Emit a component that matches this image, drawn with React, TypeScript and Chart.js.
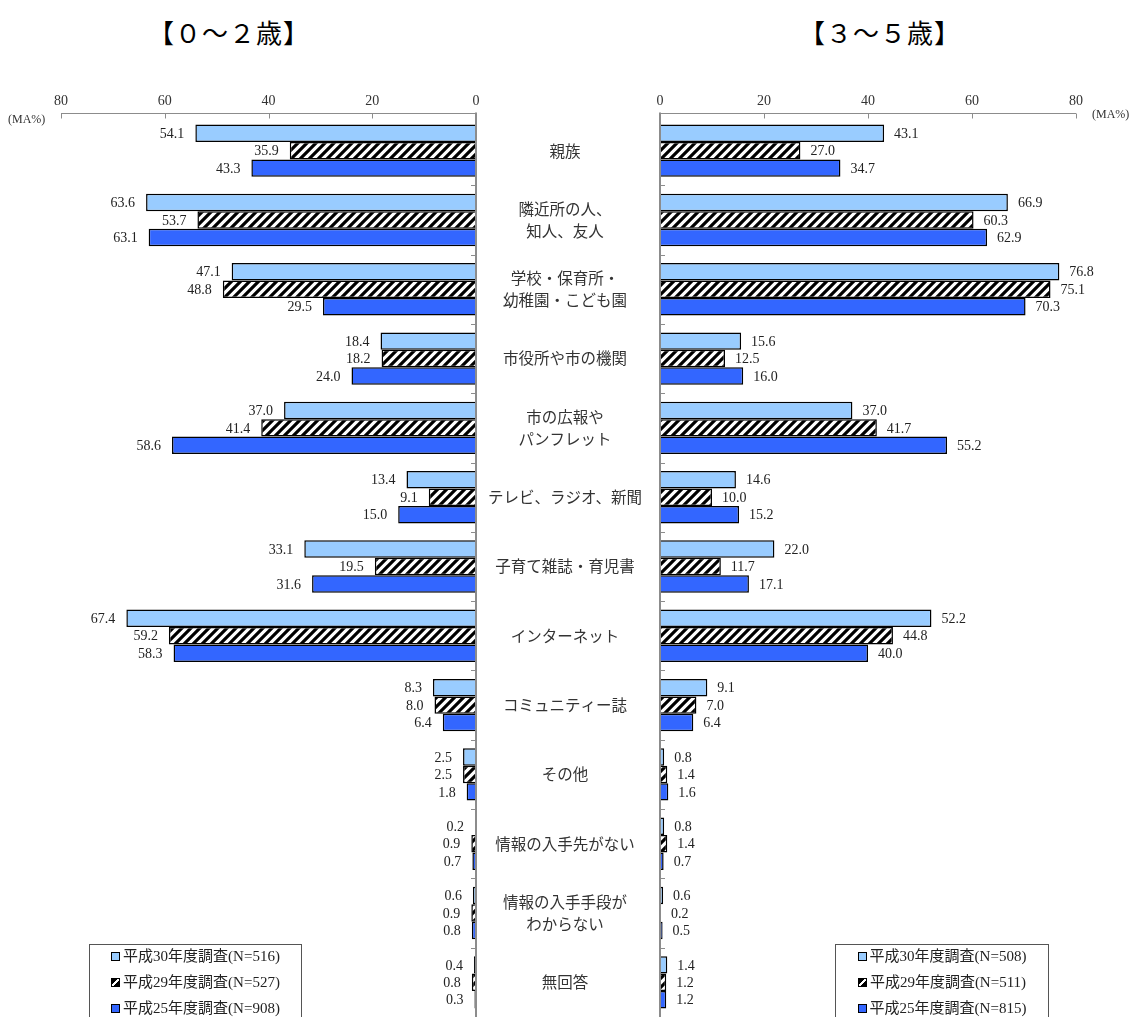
import React, { useEffect, useRef } from 'react';
import { Chart, registerables } from 'chart.js';

Chart.register(...registerables);

// ---------- data ----------
const categories: string[][] = [
  ['親族'],
  ['隣近所の人、', '知人、友人'],
  ['学校・保育所・', '幼稚園・こども園'],
  ['市役所や市の機関'],
  ['市の広報や', 'パンフレット'],
  ['テレビ、ラジオ、新聞'],
  ['子育て雑誌・育児書'],
  ['インターネット'],
  ['コミュニティー誌'],
  ['その他'],
  ['情報の入手先がない'],
  ['情報の入手手段が', 'わからない'],
  ['無回答'],
];

const xTickValues = [0, 20, 40, 60, 80];

// 0〜2歳
const young30 = [54.1, 63.6, 47.1, 18.4, 37.0, 13.4, 33.1, 67.4, 8.3, 2.5, 0.2, 0.6, 0.4];
const young29 = [35.9, 53.7, 48.8, 18.2, 41.4, 9.1, 19.5, 59.2, 8.0, 2.5, 0.9, 0.9, 0.8];
const young25 = [43.3, 63.1, 29.5, 24.0, 58.6, 15.0, 31.6, 58.3, 6.4, 1.8, 0.7, 0.8, 0.3];

// 3〜5歳
const old30 = [43.1, 66.9, 76.8, 15.6, 37.0, 14.6, 22.0, 52.2, 9.1, 0.8, 0.8, 0.6, 1.4];
const old29 = [27.0, 60.3, 75.1, 12.5, 41.7, 10.0, 11.7, 44.8, 7.0, 1.4, 1.4, 0.2, 1.2];
const old25 = [34.7, 62.9, 70.3, 16.0, 55.2, 15.2, 17.1, 40.0, 6.4, 1.6, 0.7, 0.5, 1.2];

const legendYoung = ['平成30年度調査(N=516)', '平成29年度調査(N=527)', '平成25年度調査(N=908)'];
const legendOld = ['平成30年度調査(N=508)', '平成29年度調査(N=511)', '平成25年度調査(N=815)'];

const titleYoung = '【０～２歳】';
const titleOld = '【３～５歳】';
const unitLabel = '(MA%)';

// ---------- styles ----------
const LIGHT = '#99CCFF';
const DARK = '#3366FF';
const SERIF = '"Liberation Serif", "DejaVu Serif", serif';
const JP = '"Noto Sans CJK JP", sans-serif';

function makeHatch(): any {
  const c = document.createElement('canvas');
  const s = 9;
  c.width = s;
  c.height = s;
  const g = c.getContext('2d')!;
  g.fillStyle = '#fff';
  g.fillRect(0, 0, s, s);
  g.strokeStyle = '#000';
  g.lineWidth = 3.2;
  g.beginPath();
  g.moveTo(-1, s + 1);
  g.lineTo(s + 1, -1);
  g.moveTo(-s / 2 - 1, s / 2 + 1);
  g.lineTo(s / 2 + 1, -s / 2 - 1);
  g.moveTo(s / 2 - 1, s * 1.5 + 1);
  g.lineTo(s * 1.5 + 1, s / 2 - 1);
  g.stroke();
  return g.createPattern(c, 'repeat');
}

const decorPlugin = {
  id: 'decor',
  afterDatasetsDraw(chart: any, _args: any, opts: any) {
    const { ctx, chartArea } = chart;
    const xs = chart.scales.x;
    const ys = chart.scales.y;
    const y0 = Math.round(chartArea.top - 3) + 0.5;
    const zx = xs.getPixelForValue(0);
    const ex = xs.getPixelForValue(xs.max);
    ctx.save();
    ctx.strokeStyle = '#8c8c8c';
    ctx.lineWidth = 1;
    ctx.beginPath();
    ctx.moveTo(Math.min(zx, ex), y0);
    ctx.lineTo(Math.max(zx, ex), y0);
    xs.ticks.forEach((t: any) => {
      const px = Math.round(xs.getPixelForValue(t.value)) + 0.5;
      ctx.moveTo(px, y0);
      ctx.lineTo(px, y0 + 5);
    });
    const dir = opts.side === 'left' ? -1 : 1;
    const n = categories.length;
    for (let i = 0; i < n - 1; i++) {
      const b = Math.round((ys.getPixelForValue(i) + ys.getPixelForValue(i + 1)) / 2) + 0.5;
      ctx.moveTo(zx, b);
      ctx.lineTo(zx + dir * 5, b);
    }
    ctx.stroke();
    ctx.lineWidth = 2;
    ctx.beginPath();
    ctx.moveTo(zx, y0 - 1);
    ctx.lineTo(zx, chartArea.bottom);
    ctx.stroke();
    ctx.restore();
  },
};

const valuePlugin = {
  id: 'values',
  afterDatasetsDraw(chart: any, _args: any, opts: any) {
    const ctx = chart.ctx;
    ctx.save();
    ctx.font = `14px ${SERIF}`;
    ctx.fillStyle = '#222';
    ctx.textBaseline = 'middle';
    chart.data.datasets.forEach((ds: any, i: number) => {
      const meta = chart.getDatasetMeta(i);
      meta.data.forEach((el: any, j: number) => {
        const txt = Number(ds.data[j]).toFixed(1);
        if (opts.side === 'left') {
          ctx.textAlign = 'right';
          ctx.fillText(txt, el.x - 11, el.y + 1);
        } else {
          ctx.textAlign = 'left';
          ctx.fillText(txt, el.x + 10, el.y + 1);
        }
      });
    });
    ctx.restore();
  },
};

function SideChart(props: {
  side: 'left' | 'right';
  s30: number[];
  s29: number[];
  s25: number[];
  names: string[];
  width: number;
  left: number;
}) {
  const ref = useRef<HTMLCanvasElement>(null);
  useEffect(() => {
    if (!ref.current) return;
    const hatch = makeHatch();
    const isLeft = props.side === 'left';
    const common = {
      borderColor: '#000',
      borderWidth: 1.5,
      barPercentage: 1.0,
      categoryPercentage: 0.756,
    };
    const chart = new Chart(ref.current, {
      type: 'bar',
      data: {
        labels: categories as any,
        datasets: [
          { label: props.names[0], data: props.s30, backgroundColor: LIGHT, ...common },
          { label: props.names[1], data: props.s29, backgroundColor: hatch, ...common },
          { label: props.names[2], data: props.s25, backgroundColor: DARK, ...common },
        ],
      },
      options: {
        indexAxis: 'y',
        animation: false,
        responsive: false,
        maintainAspectRatio: false,
        layout: {
          padding: isLeft
            ? { left: 61, right: 0, top: 0, bottom: 0 }
            : { left: 20, right: 53, top: 0, bottom: 0 },
        },
        plugins: {
          legend: { display: false },
          tooltip: { enabled: false },
          values: { side: props.side },
          decor: { side: props.side },
        } as any,
        scales: {
          x: {
            type: 'linear',
            position: 'top',
            reverse: isLeft,
            min: 0,
            max: 80,
            grid: { display: false, drawTicks: false },
            border: { display: false },
            ticks: {
              font: { family: SERIF, size: 14 },
              color: '#333',
              padding: 6,
              maxRotation: 0,
            },
            afterBuildTicks: (s: any) => {
              s.ticks = xTickValues.map((v) => ({ value: v }));
            },
            afterFit: (s: any) => {
              s.height = 116;
              s.paddingLeft = 0;
              s.paddingRight = 0;
              s.paddingTop = 0;
              s.paddingBottom = 0;
            },
          },
          y: {
            type: 'category',
            position: 'right',
            display: isLeft,
            grid: { display: false, drawTicks: false },
            border: { display: false },
            ticks: {
              autoSkip: false,
              crossAlign: 'center',
              padding: 12,
              color: '#333',
              font: { family: JP, size: 15.5, lineHeight: 1.4 },
            },
            afterFit: (s: any) => {
              if (isLeft) s.width = 184;
              s.paddingTop = 0;
              s.paddingBottom = 0;
              s.paddingLeft = 0;
              s.paddingRight = 0;
            },
          },
        } as any,
      } as any,
      plugins: [decorPlugin, valuePlugin],
    });
    return () => chart.destroy();
  }, []);
  return (
    <canvas
      ref={ref}
      width={props.width}
      height={1017}
      style={{ position: 'absolute', left: props.left, top: 0, width: props.width, height: 1017 }}
    />
  );
}

function Legend(props: { names: string[]; left: number; width: number }) {
  const markers = [
    { background: LIGHT },
    { background: 'linear-gradient(135deg, #000 0%, #000 40%, #fff 40%, #fff 60%, #000 60%)' },
    { background: DARK },
  ];
  return (
    <div
      style={{
        position: 'absolute',
        left: props.left,
        top: 944,
        width: props.width,
        height: 100,
        border: '1px solid #555',
        boxSizing: 'border-box',
        background: '#fff',
      }}
    >
      <div style={{ position: 'absolute', left: 0, right: 0, top: -2 }}>
        {props.names.map((n, i) => (
          <div
            key={n}
            style={{
              height: 26,
              lineHeight: '26px',
              textAlign: 'center',
              fontFamily: `"Liberation Serif", "Noto Sans CJK JP", serif`,
              fontSize: 15,
              color: '#222',
              whiteSpace: 'nowrap',
            }}
          >
            <span
              style={{
                display: 'inline-block',
                width: 7,
                height: 7,
                border: '1px solid #000',
                marginRight: 3,
                verticalAlign: 'middle',
                position: 'relative',
                top: -1,
                ...markers[i],
              }}
            />
            {n}
          </div>
        ))}
      </div>
    </div>
  );
}

function Title(props: { text: string; cx: number }) {
  return (
    <div
      style={{
        position: 'absolute',
        left: props.cx - 120,
        width: 240,
        top: 16,
        lineHeight: '32px',
        textAlign: 'center',
        fontFamily: JP,
        fontSize: 26,
        letterSpacing: 1,
        color: '#000',
        whiteSpace: 'nowrap',
      }}
    >
      {props.text}
    </div>
  );
}

export default function App() {
  useEffect(() => {
    document.body.style.margin = '0';
  }, []);
  return (
    <div
      style={{
        position: 'relative',
        width: 1129,
        height: 1017,
        overflow: 'hidden',
        background: '#fff',
      }}
    >
      <Title text={titleYoung} cx={229} />
      <Title text={titleOld} cx={880} />
      <SideChart side="left" s30={young30} s29={young29} s25={young25} names={legendYoung} width={660} left={0} />
      <SideChart side="right" s30={old30} s29={old29} s25={old25} names={legendOld} width={489} left={640} />
      <div
        style={{
          position: 'absolute',
          left: 8,
          top: 112,
          fontFamily: SERIF,
          fontSize: 12,
          lineHeight: '14px',
          color: '#333',
        }}
      >
        {unitLabel}
      </div>
      <div
        style={{
          position: 'absolute',
          left: 1092,
          top: 107,
          fontFamily: SERIF,
          fontSize: 12,
          lineHeight: '14px',
          color: '#333',
        }}
      >
        {unitLabel}
      </div>
      <Legend names={legendYoung} left={89} width={213} />
      <Legend names={legendOld} left={835} width={214} />
    </div>
  );
}
